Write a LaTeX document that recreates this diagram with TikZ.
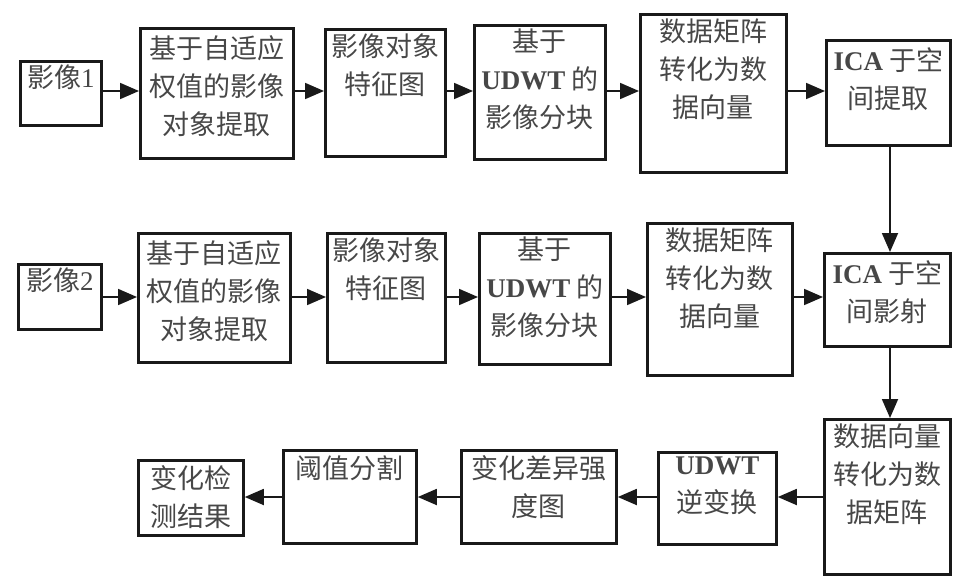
\documentclass[tikz,border=0pt]{standalone}
\usepackage{fontspec}
\setmainfont{Noto Sans CJK SC}
\newfontfamily\lat{Liberation Serif}
\usetikzlibrary{arrows.meta}
\begin{document}
\begin{tikzpicture}[x=1pt,y=-1pt,
  box/.style={draw=black!90, line width=2.8pt, rectangle, inner sep=0pt, anchor=north west},
  txt/.style={anchor=north, inner sep=0pt, align=center, text=black!72, font=\fontsize{27}{38}\selectfont},
  arr/.style={line width=1.8pt, black!90, -{Triangle[length=19pt,width=16pt]}}]
\useasboundingbox (0,0) rectangle (953,576);
\newcommand\LT[1]{{\lat\bfseries #1}}
% row 1
\node[box, minimum width=81pt, minimum height=64pt] (a1) at (19,60) {};
\node[box, minimum width=153pt, minimum height=130pt] (a2) at (139,27) {};
\node[box, minimum width=120pt, minimum height=127pt] (a3) at (324,28) {};
\node[box, minimum width=131pt, minimum height=134pt] (a4) at (473,24) {};
\node[box, minimum width=146pt, minimum height=158pt] (a5) at (639,13) {};
\node[box, minimum width=124pt, minimum height=105pt] (a6) at (825,39) {};
% row 2
\node[box, minimum width=83pt, minimum height=65pt] (b1) at (17,263) {};
\node[box, minimum width=152pt, minimum height=129pt] (b2) at (137,232) {};
\node[box, minimum width=118pt, minimum height=129pt] (b3) at (326,232) {};
\node[box, minimum width=131pt, minimum height=131pt] (b4) at (478,232) {};
\node[box, minimum width=145pt, minimum height=152pt] (b5) at (646,222) {};
\node[box, minimum width=126pt, minimum height=93pt] (b6) at (823,252) {};
% row 3
\node[box, minimum width=126pt, minimum height=155pt] (c1) at (823,418) {};
\node[box, minimum width=118pt, minimum height=92pt] (c2) at (657,451) {};
\node[box, minimum width=155pt, minimum height=93pt] (c3) at (460,449) {};
\node[box, minimum width=133pt, minimum height=93pt] (c4) at (282,449) {};
\node[box, minimum width=105pt, minimum height=75pt] (c5) at (137,459) {};
% texts
\node[txt] (a1t) at ([yshift=-5pt]a1.north) {影像{\lat 1}};
\node[txt] (a2t) at ([yshift=-8pt]a2.north) {基于自适应\\权值的影像\\对象提取};
\node[txt] (a3t) at ([yshift=-6pt]a3.north) {影像对象\\特征图};
\node[txt] (a4t) at ([yshift=-5pt]a4.north) {基于\\\LT{UDWT} 的\\影像分块};
\node[txt] (a5t) at ([yshift=-6pt]a5.north) {数据矩阵\\转化为数\\据向量};
\node[txt] (a6t) at ([yshift=-8pt]a6.north) {\LT{ICA} 于空\\间提取};
\node[txt] (b1t) at ([yshift=-5pt]b1.north) {影像{\lat 2}};
\node[txt] (b2t) at ([yshift=-8pt]b2.north) {基于自适应\\权值的影像\\对象提取};
\node[txt] (b3t) at ([yshift=-6pt]b3.north) {影像对象\\特征图};
\node[txt] (b4t) at ([yshift=-5pt]b4.north) {基于\\\LT{UDWT} 的\\影像分块};
\node[txt] (b5t) at ([yshift=-6pt]b5.north) {数据矩阵\\转化为数\\据向量};
\node[txt] (b6t) at ([yshift=-8pt]b6.north) {\LT{ICA} 于空\\间影射};
\node[txt] (c1t) at ([yshift=-6pt]c1.north) {数据向量\\转化为数\\据矩阵};
\node[txt] (c2t) at ([yshift=-6pt]c2.north) {\LT{UDWT}\\逆变换};
\node[txt] (c3t) at ([yshift=-6pt]c3.north) {变化差异强\\度图};
\node[txt] (c4t) at ([yshift=-6pt]c4.north) {阈值分割};
\node[txt] (c5t) at ([yshift=-6pt]c5.north) {变化检\\测结果};
% connectors
\coordinate (r1) at (0,91);
\coordinate (r2) at (0,297);
\coordinate (r3) at (0,497);
\coordinate (vx) at (890,0);
\draw[arr] (a1.east |- r1) -- (a2.west |- r1);
\draw[arr] (a2.east |- r1) -- (a3.west |- r1);
\draw[arr] (a3.east |- r1) -- (a4.west |- r1);
\draw[arr] (a4.east |- r1) -- (a5.west |- r1);
\draw[arr] (a5.east |- r1) -- (a6.west |- r1);
\draw[arr] (b1.east |- r2) -- (b2.west |- r2);
\draw[arr] (b2.east |- r2) -- (b3.west |- r2);
\draw[arr] (b3.east |- r2) -- (b4.west |- r2);
\draw[arr] (b4.east |- r2) -- (b5.west |- r2);
\draw[arr] (b5.east |- r2) -- (b6.west |- r2);
\draw[arr] (a6.south -| vx) -- (b6.north -| vx);
\draw[arr] (b6.south -| vx) -- (c1.north -| vx);
\draw[arr] (c1.west |- r3) -- (c2.east |- r3);
\draw[arr] (c2.west |- r3) -- (c3.east |- r3);
\draw[arr] (c3.west |- r3) -- (c4.east |- r3);
\draw[arr] (c4.west |- r3) -- (c5.east |- r3);
\end{tikzpicture}
\end{document}
